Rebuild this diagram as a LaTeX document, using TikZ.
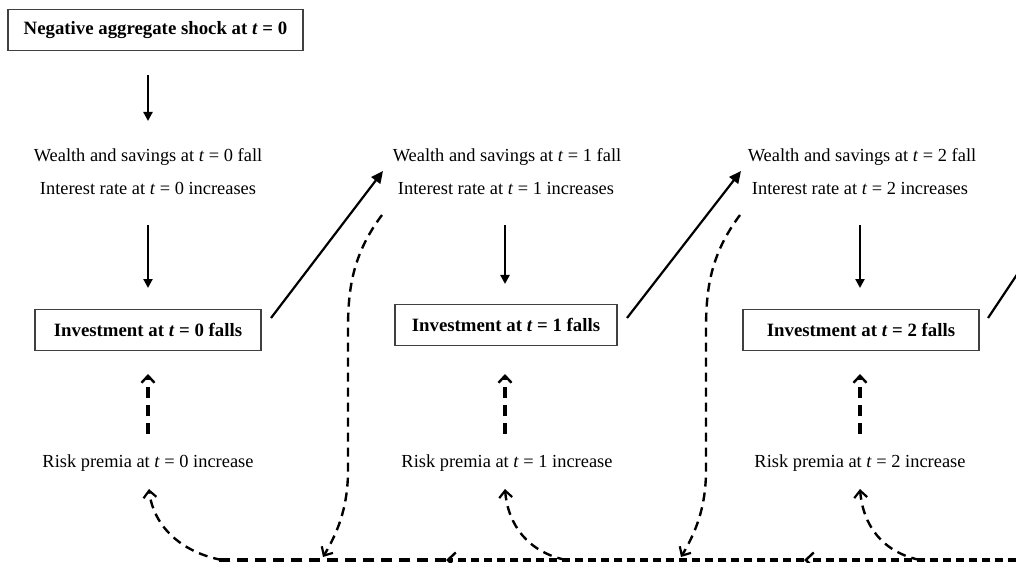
\documentclass[tikz,border=0pt]{standalone}
\usepackage{fontspec}
\setmainfont{Liberation Serif}
\usetikzlibrary{arrows.meta}
\begin{document}
\begin{tikzpicture}[x=1bp,y=-1bp,
  txt/.style={font=\fontsize{18.4bp}{22bp}\selectfont, inner sep=0pt},
  boxed/.style={draw=black!75, line width=1.3bp, font=\fontsize{18.8bp}{22bp}\selectfont\bfseries, minimum height=41bp, inner sep=0pt},
  solidarr/.style={line width=2.2bp, -{Triangle[length=9bp,width=9bp]}},
  diagarr/.style={line width=2.2bp, -{Triangle[length=12bp,width=11bp]}},
  dasharr/.style={line width=3.3bp, dash pattern=on 11bp off 7bp, -{Straight Barb[length=7bp,width=13bp,line width=2.4bp]}},
  curvearr/.style={line width=2.4bp, dash pattern=on 9bp off 6bp, -{Straight Barb[length=7bp,width=13bp,line width=2.2bp]}},
  hline/.style={line width=3.2bp, dash pattern=on 8bp off 5bp},
  hthick/.style={line width=3.8bp, dash pattern=on 11bp off 7bp},
  harr/.style={hline, -{Straight Barb[length=8bp,width=15bp,line width=2.4bp]}}
]
\useasboundingbox (0,0) rectangle (1016,563);

% top box
\node[boxed, minimum width=295bp] (shock) at (155.5,30) {Negative aggregate shock at \textit{t} = 0};

% column texts
\node[txt] (w0) at (148,157) {Wealth and savings at \textit{t} = 0 fall};
\node[txt] (i0) at (148,188) {Interest rate at \textit{t} = 0 increases};
\node[txt] (w1) at (507,157) {Wealth and savings at \textit{t} = 1 fall};
\node[txt] (i1) at (506,188) {Interest rate at \textit{t} = 1 increases};
\node[txt] (w2) at (862,157) {Wealth and savings at \textit{t} = 2 fall};
\node[txt] (i2) at (860,188) {Interest rate at \textit{t} = 2 increases};

% investment boxes
\node[boxed, minimum width=226bp] (inv0) at (148,330) {Investment at \textit{t} = 0 falls};
\node[boxed, minimum width=222bp] (inv1) at (506,325) {Investment at \textit{t} = 1 falls};
\node[boxed, minimum width=236bp] (inv2) at (861,330) {Investment at \textit{t} = 2 falls};

% risk premia
\node[txt] (r0) at (148,463) {Risk premia at \textit{t} = 0 increase};
\node[txt] (r1) at (507,463) {Risk premia at \textit{t} = 1 increase};
\node[txt] (r2) at (860,463) {Risk premia at \textit{t} = 2 increase};

% coordinates
\coordinate (a0s) at (148,75);  \coordinate (a0e) at (148,121);
\coordinate (b0s) at (148,225); \coordinate (b0e) at (148,288);
\coordinate (b1s) at (505,225); \coordinate (b1e) at (505,284);
\coordinate (b2s) at (860,225); \coordinate (b2e) at (860,288);

\coordinate (d0s) at (271,318); \coordinate (d0e) at (383,171);
\coordinate (d1s) at (627,318); \coordinate (d1e) at (741,171);
\coordinate (d2s) at (988,318); \coordinate (d2e) at (1030,255);

\coordinate (u0s) at (148,434); \coordinate (u0e) at (148,374);
\coordinate (u1s) at (505,434); \coordinate (u1e) at (505,374);
\coordinate (u2s) at (860,434); \coordinate (u2e) at (860,374);

\coordinate (c0s) at (382,215); \coordinate (c0m1) at (348,330); \coordinate (c0m2) at (348,470); \coordinate (c0e) at (323,557);
\coordinate (c1s) at (740,215); \coordinate (c1m1) at (706,330); \coordinate (c1m2) at (706,470); \coordinate (c1e) at (681,557);

\coordinate (rp0s) at (222,560); \coordinate (rp0e) at (149,489);
\coordinate (rp1s) at (566,560); \coordinate (rp1e) at (505,489);
\coordinate (rp2s) at (920,560); \coordinate (rp2e) at (860,489);

\coordinate (hR) at (1016,560);
\coordinate (hB) at (804,560);
\coordinate (hA) at (446,560);
\coordinate (hL) at (215,560);

% solid vertical arrows
\draw[solidarr] (a0s) -- (a0e);
\draw[solidarr] (b0s) -- (b0e);
\draw[solidarr] (b1s) -- (b1e);
\draw[solidarr] (b2s) -- (b2e);

% diagonal arrows
\draw[diagarr] (d0s) -- (d0e);
\draw[diagarr] (d1s) -- (d1e);
\draw[line width=2.2bp] (d2s) -- (d2e);

% dashed up arrows
\draw[dasharr] (u0s) -- (u0e);
\draw[dasharr] (u1s) -- (u1e);
\draw[dasharr] (u2s) -- (u2e);

% dashed long curves
\draw[curvearr] (c0s) .. controls (352,255) and (348,290) .. (c0m1) -- (c0m2) .. controls (348,510) and (336,535) .. (c0e);
\draw[curvearr] (c1s) .. controls (710,255) and (706,290) .. (c1m1) -- (c1m2) .. controls (706,510) and (694,535) .. (c1e);

% risk premia curves
\draw[curvearr] (rp0s) .. controls (180,552) and (153,525) .. (rp0e);
\draw[curvearr] (rp1s) .. controls (528,552) and (508,525) .. (rp1e);
\draw[curvearr] (rp2s) .. controls (882,552) and (863,525) .. (rp2e);

% horizontal dashed line
\draw[harr] (hR) -- (hB);
\draw[harr] (hB) -- (hA);
\draw[hthick] (hA) -- (hL);
\end{tikzpicture}
\end{document}
